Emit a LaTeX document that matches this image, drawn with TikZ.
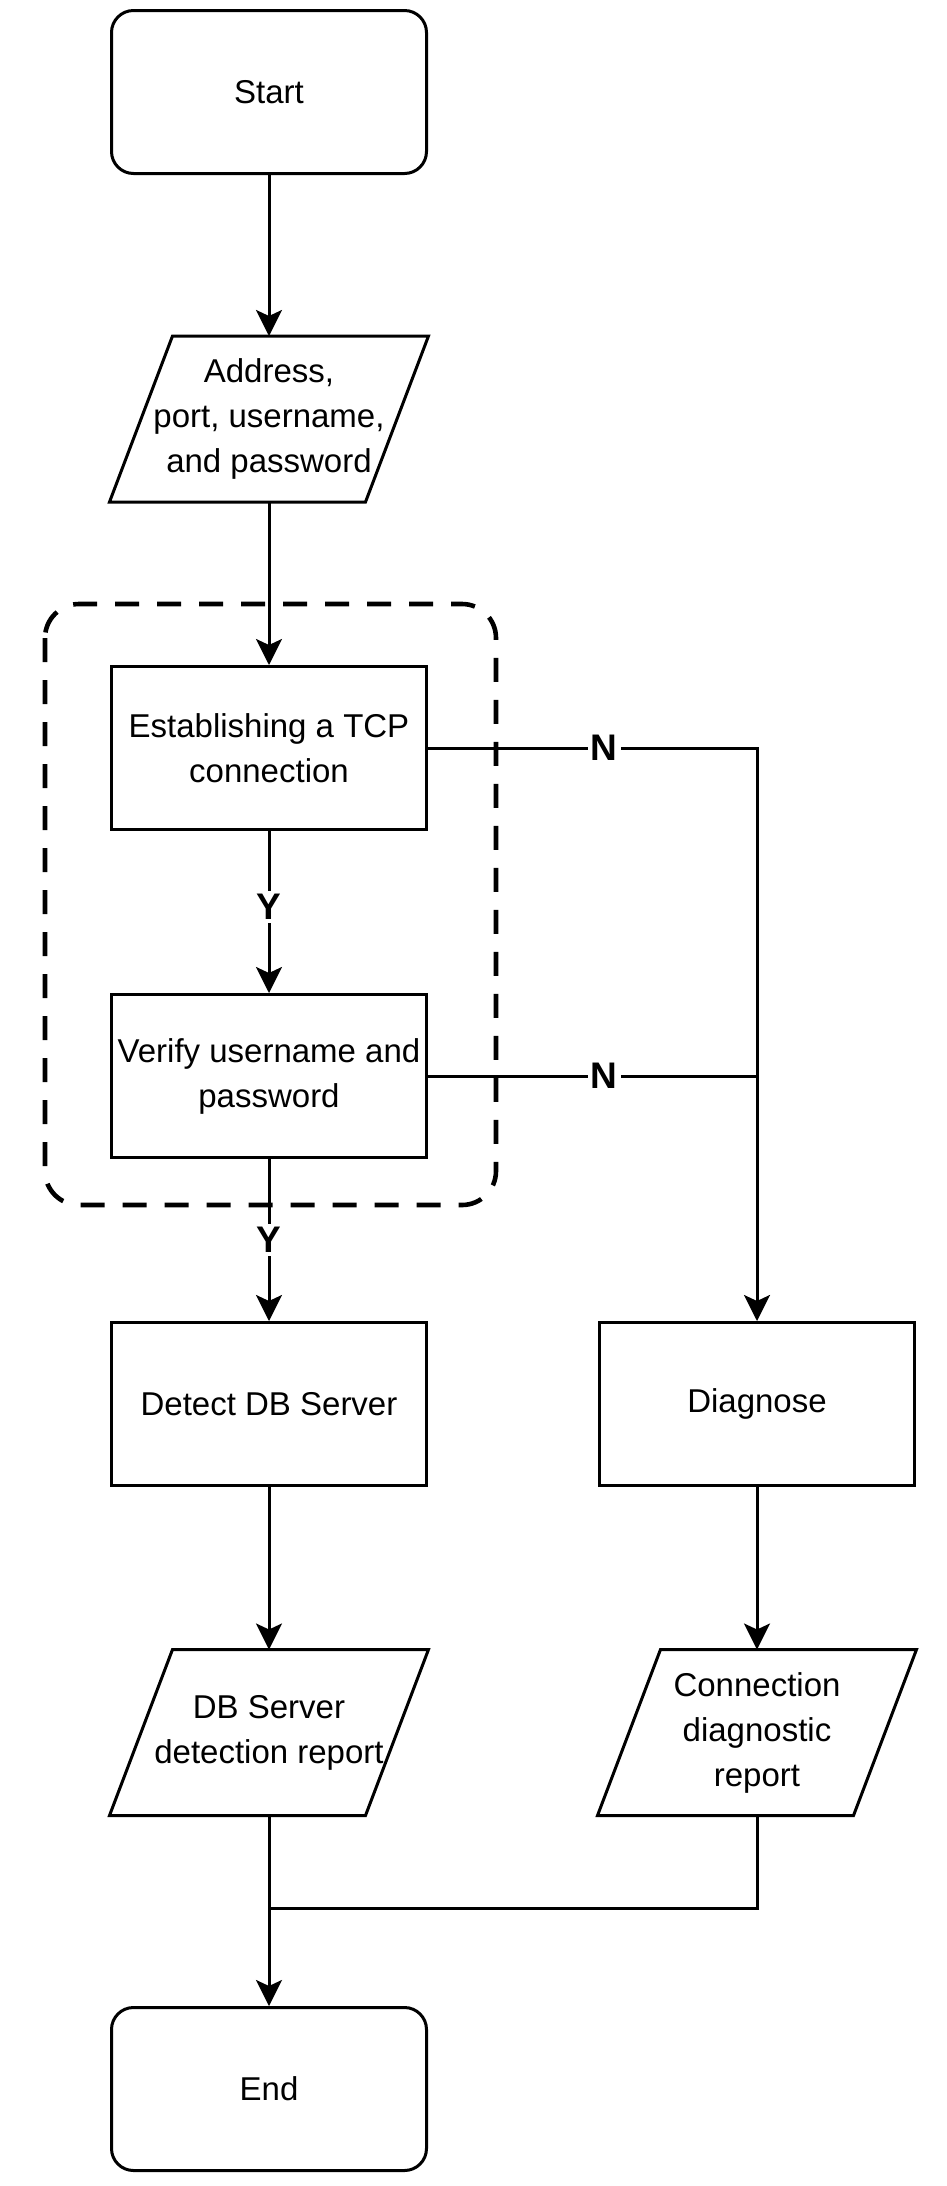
\documentclass[tikz,border=0pt]{standalone}
\usepackage{fontspec}
\setmainfont{Liberation Sans}
\usetikzlibrary{arrows.meta,calc}

\begin{document}
\begin{tikzpicture}[x=0.5pt, y=-0.5pt, line width=1.5pt,
  font=\fontsize{16.5}{22.5}\selectfont,
  >={Stealth[length=13pt,width=13pt,inset=3pt]},
  flow/.style={->},
  term/.style={draw, rounded corners=11pt, minimum width=157.5pt, minimum height=81.5pt,
               inner sep=0pt, align=center},
  proc/.style={draw, minimum width=157.5pt, minimum height=81.5pt, inner sep=0pt, align=center},
  io/.style={minimum width=158pt, minimum height=81.5pt, inner sep=0pt, align=center},
  yn/.style={fill=white, font=\fontsize{18.5}{20}\selectfont\bfseries, inner sep=1.5pt},
  group/.style={line width=2.3pt, dash pattern=on 12pt off 9pt, rounded corners=17pt}]

\useasboundingbox (0,0) rectangle (947,2186);

% main column
\node[term] (start) at (269,92) {Start};
\node[io] (input) at (269,419) {Address,\\port, username,\\and password};
\node[proc] (tcp) at (269,748) {Establishing a TCP\\connection};
\node[proc] (verify) at (269,1076) {Verify username and\\password};
\node[proc] (detect) at (269,1404) {Detect DB Server};
\node[io] (dbrep) at (269,1732.5) {DB Server\\detection report};
\node[term] (end) at (269,2089) {End};

% failure column
\node[proc] (diag) at (757,1404) {Diagnose};
\node[io] (diagrep) at (757,1732.5) {Connection\\diagnostic\\report};

% parallelograms
\foreach \n in {input,dbrep,diagrep}
  \draw (\n.south west) -- ++(256,0) -- (\n.north east) -- ++(-256,0) -- cycle;

% login checks
\draw[group] (45,604) rectangle (496,1205);

\draw[flow] (start) -- (input);
\draw[flow] (input) -- (tcp);
\draw[flow] (tcp) -- node[yn, pos=0.47] {Y} (verify);
\draw[flow] (verify) -- node[yn] {Y} (detect);
\draw[flow] (tcp.east) -| node[yn, pos=0.268] {N} (diag.north);
\draw (verify.east) -- node[yn, pos=0.536] {N} (verify.east -| diag.north);

% reports
\draw[flow] (detect) -- (dbrep);
\draw[flow] (diag) -- (diagrep);
\coordinate (join) at (269,1908);
\draw[flow] (dbrep) -- (end);
\draw (diagrep.south) |- (join);

\end{tikzpicture}
\end{document}
